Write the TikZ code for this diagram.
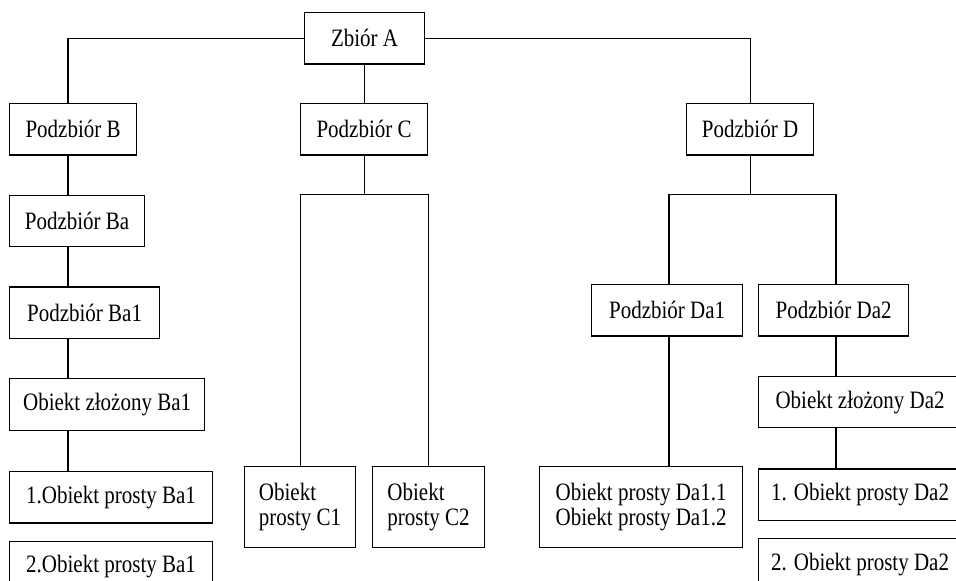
\documentclass[tikz,border=0pt]{standalone}
\usepackage{fontspec}
\setmainfont{Liberation Serif}[FakeStretch=0.84]
\usetikzlibrary{positioning}

\begin{document}
\begin{tikzpicture}
  [
    x=0.5pt, y=-0.5pt,
    font=\fontsize{12.5pt}{12.5pt}\selectfont,
    box/.style={draw, rectangle, minimum height=25.75pt, align=left, anchor=north west, line width=0.6pt},
    tall/.style={box, minimum height=40.5pt},
    link/.style={draw, line width=0.6pt},
    node distance=19.5pt,
  ]
  \useasboundingbox (0,0) rectangle (956,581);

  \node (a) [box, align=center, minimum width=60pt] at (304,12) {Zbiór A};

  % podzbior B
  \node (b) [box, minimum width=63.5pt] at (9,103) {Podzbiór B};
  \node (ba) [box, minimum width=67.5pt, below=of b.south west, anchor=north west] {Podzbiór Ba};
  \node (ba1) [box, minimum width=75pt, below=of ba.south west, anchor=north west] {Podzbiór Ba1};
  \node (ozba1) [box, minimum width=97.5pt, below=of ba1.south west, anchor=north west] {Obiekt złożony Ba1};
  \node (opba1) [box, minimum width=101.5pt, below=20pt of ozba1.south west, anchor=north west] {1.Obiekt prosty Ba1};
  \node (opbb1) [box, minimum width=101.5pt, below=8.5pt of opba1.south west, anchor=north west] {2.Obiekt prosty Ba1};

  % podzbior C
  \node (c) [box, minimum width=63.5pt] at (300,103) {Podzbiór C};
  \node (c1) [tall, minimum width=55.5pt] at (244,466) {Obiekt\\prosty C1};
  \node (c2) [tall, minimum width=56pt] at (372,466) {Obiekt\\prosty C2};

  % podzbior D
  \node (d) [box, minimum width=63.5pt] at (686,103) {Podzbiór D};
  \node (da1) [box, minimum width=75.5pt] at (591,284) {Podzbiór Da1};
  \node (da1x) [tall, minimum width=101.5pt] at (539,466) {Obiekt prosty Da1.1\\Obiekt prosty Da1.2};
  \node (da2) [box, minimum width=75pt] at (758,284) {Podzbiór Da2};
  \node (ozda2) [box, minimum width=101.5pt, below=of da2.south west, anchor=north west] {Obiekt złożony Da2};
  \node (opda2) [box, minimum width=101.5pt, below=20pt of ozda2.south west, anchor=north west] {1. Obiekt prosty Da2};
  \node (opdb2) [box, minimum width=101.5pt, below=8.5pt of opda2.south west, anchor=north west] {2. Obiekt prosty Da2};

  \coordinate (trunkB) at (68,0);
  \coordinate (trunkDa1) at (669,0);
  \coordinate (trunkDa2) at (836,0);

  \draw [link] (a.west) -| (b.north -| trunkB);
  \draw [link] (a.south) -- (a.south |- c.north);
  \draw [link] (a.east) -| (d.north);

  \draw [link] (b.south -| trunkB) -- (ba.north -| trunkB);
  \draw [link] (ba.south -| trunkB) -- (ba1.north -| trunkB);
  \draw [link] (ba1.south -| trunkB) -- (ozba1.north -| trunkB);
  \draw [link] (ozba1.south -| trunkB) -- (opba1.north -| trunkB);

  \draw [link] (c.south) -- ++(0,39) coordinate (cfork);
  \draw [link] (c1.north) |- (cfork) -| (c2.north);

  \draw [link] (d.south) -- ++(0,39) coordinate (dfork);
  \draw [link] (da1.north -| trunkDa1) |- (dfork) -| (da2.north -| trunkDa2);
  \draw [link] (da1.south -| trunkDa1) -- (da1x.north -| trunkDa1);
  \draw [link] (da2.south -| trunkDa2) -- (ozda2.north -| trunkDa2);
  \draw [link] (ozda2.south -| trunkDa2) -- (opda2.north -| trunkDa2);
\end{tikzpicture}
\end{document}
